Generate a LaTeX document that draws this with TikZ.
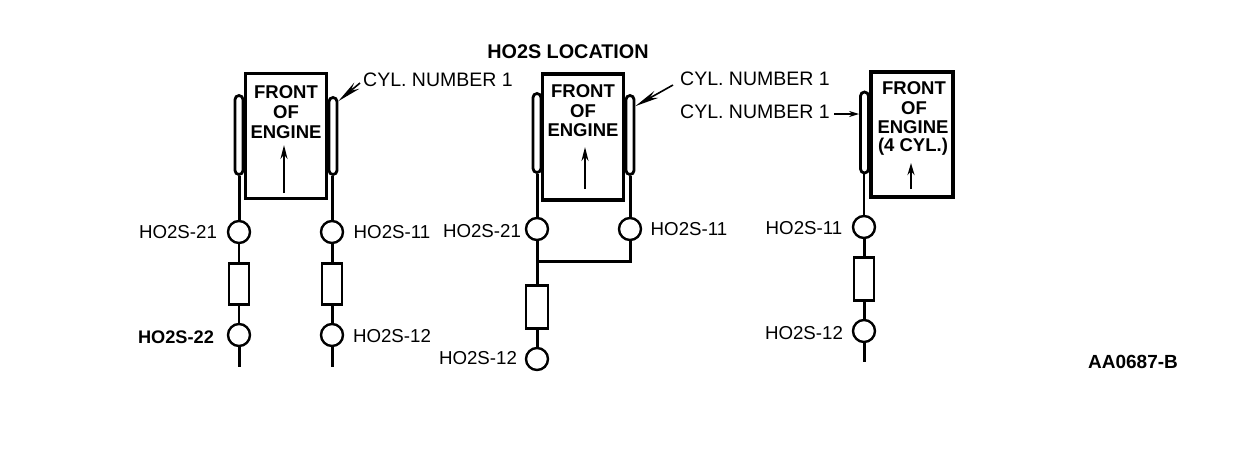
\documentclass[tikz,border=0pt]{standalone}
\usepackage{fontspec}
\setmainfont{Liberation Sans}
\usetikzlibrary{arrows.meta}
\tikzset{
  x=1pt,y=-1pt,
  enginebox/.style={draw,line width=3.4pt,rectangle,inner sep=0pt},
  pipebox/.style={draw,line width=2.8pt,rectangle,rounded corners=4pt,fill=white,inner sep=0pt,minimum width=8pt},
  sensor/.style={draw,line width=2.4pt,circle,fill=white,inner sep=0pt,minimum size=22pt},
  catbox/.style={draw,line width=2.6pt,rectangle,fill=white,inner sep=0pt,minimum width=20pt,minimum height=41pt},
  pipeline/.style={line width=3pt},
  thinline/.style={line width=2pt},
  lbl/.style={inner sep=0pt,font=\fontsize{18.7}{20}\selectfont},
  cyllbl/.style={inner sep=0pt,anchor=west,font=\fontsize{19.5}{20}\selectfont},
  blbl/.style={inner sep=0pt,font=\fontsize{18.2}{20}\selectfont\bfseries},
  frontlbl/.style={inner sep=0pt,font=\fontsize{18.5}{20}\selectfont\bfseries},
  uparrow/.style={line width=2pt,-{Stealth[length=14pt,width=7pt]}},
  leader/.style={line width=1.6pt,-{Stealth[length=24pt,width=8pt]}},
}
\begin{document}
\begin{tikzpicture}
\useasboundingbox (0,0) rectangle (1248,448);
\fill[white] (0,0) rectangle (1248,448);

\node[blbl,font=\fontsize{19.8}{20}\selectfont\bfseries] (title) at (568,52) {HO2S LOCATION};

% left diagram
\node[enginebox,minimum width=81pt,minimum height=125pt] (ea) at (286,136) {};
\node[pipebox,minimum height=79pt] (pa1) at (239,135) {};
\node[pipebox,minimum height=77pt] (pa2) at (333,136) {};
\node[frontlbl] (fa1) at (286,92) {FRONT};
\node[frontlbl] (fa2) at (286,112) {OF};
\node[frontlbl] (fa3) at (286,132) {ENGINE};
\coordinate (ua1) at (284,193); \coordinate (ua2) at (284,145);
\draw[uparrow] (ua1) -- (ua2);
\node[sensor] (sa1) at (239,232) {};
\node[sensor] (sa2) at (332,232) {};
\node[catbox] (ca1) at (239,284) {};
\node[catbox] (ca2) at (332,284) {};
\node[sensor] (sa3) at (239,335) {};
\node[sensor] (sa4) at (332,335) {};
\coordinate (ea1) at (239,367); \coordinate (ea2) at (332,367);
\draw[pipeline] (pa1.south) -- (sa1.north);
\draw[thinline] (sa1.south) -- (ca1.north);
\draw[thinline] (ca1.south) -- (sa3.north);
\draw[pipeline] (sa3.south) -- (ea1);
\draw[pipeline] (sa2.north |- pa2.south) -- (sa2.north);
\draw[pipeline] (sa2.south) -- (ca2.north);
\draw[pipeline] (ca2.south) -- (sa4.north);
\draw[pipeline] (sa4.south) -- (ea2);
\node[lbl] (ta1) at (178,232) {HO2S-21};
\node[blbl] (ta3) at (176,337) {HO2S-22};
\node[lbl] (ta2) at (392,232) {HO2S-11};
\node[lbl] (ta4) at (392,336) {HO2S-12};
\node[cyllbl] (cyla) at (363,80) {CYL. NUMBER 1};
\draw[leader] ([xshift=-3pt,yshift=-3pt]cyla.west) -- ([yshift=-5pt]pa2.north east);

% middle diagram
\node[enginebox,minimum width=81pt,minimum height=126pt] (eb) at (583,137) {};
\node[pipebox,minimum height=79pt] (pb1) at (537,133) {};
\node[pipebox,minimum height=79pt] (pb2) at (630,135) {};
\node[frontlbl] (fb1) at (583,91) {FRONT};
\node[frontlbl] (fb2) at (583,111) {OF};
\node[frontlbl] (fb3) at (583,130) {ENGINE};
\coordinate (ub1) at (585,189); \coordinate (ub2) at (585,147);
\draw[uparrow] (ub1) -- (ub2);
\node[sensor] (sb1) at (537,229) {};
\node[sensor] (sb2) at (630,229) {};
\coordinate (jb) at (537,261);
\node[catbox,minimum width=22pt,minimum height=43pt] (cb) at (537,307) {};
\node[sensor] (sb3) at (537,359) {};
\draw[pipeline] (pb1.south) -- (sb1.north);
\draw[pipeline] (pb2.south) -- (sb2.north);
\draw[pipeline] (sb1.south) -- (jb);
\draw[pipeline] (sb2.south) |- (jb);
\draw[pipeline] (jb) -- (cb.north);
\draw[pipeline] (cb.south) -- (sb3.north);
\node[lbl] (tb1) at (482,231) {HO2S-21};
\node[lbl] (tb2) at (689,229) {HO2S-11};
\node[lbl] (tb3) at (478,358) {HO2S-12};
\node[cyllbl] (cylb) at (680,79) {CYL. NUMBER 1};
\draw[leader] ([xshift=-7pt,yshift=-6pt]cylb.west) -- ([yshift=-12pt]pb2.north east);

% right diagram
\node[enginebox,minimum width=82pt,minimum height=125pt] (ec) at (912,134.5) {};
\node[pipebox,minimum height=81pt] (pc) at (864.5,132.5) {};
\node[frontlbl] (fc1) at (914,88) {FRONT};
\node[frontlbl] (fc2) at (914,108) {OF};
\node[frontlbl] (fc3) at (913,127) {ENGINE};
\node[frontlbl] (fc4) at (913,147) {(4 CYL.)};
\coordinate (uc1) at (911,189); \coordinate (uc2) at (911,163);
\draw[uparrow,-{Stealth[length=12pt,width=7pt]}] (uc1) -- (uc2);
\node[sensor] (sc1) at (864,227) {};
\node[catbox,minimum height=43pt] (cc) at (864,279) {};
\node[sensor] (sc2) at (864,331) {};
\coordinate (ec1) at (864,362);
\draw[thinline] (sc1.north |- pc.south) -- (sc1.north);
\draw[pipeline] (sc1.south) -- (cc.north);
\draw[pipeline] (cc.south) -- (sc2.north);
\draw[pipeline] (sc2.south) -- (ec1);
\node[lbl] (tc1) at (804,228) {HO2S-11};
\node[lbl] (tc2) at (804,333) {HO2S-12};
\node[cyllbl] (cylc) at (680,112) {CYL. NUMBER 1};
\coordinate (lc) at (834,114);
\draw[thinline,-{Stealth[length=10pt,width=6pt]}] (lc) -- (pc.west |- lc);

\node[blbl,font=\fontsize{19}{20}\selectfont\bfseries] (code) at (1133,362) {AA0687-B};
\end{tikzpicture}
\end{document}
